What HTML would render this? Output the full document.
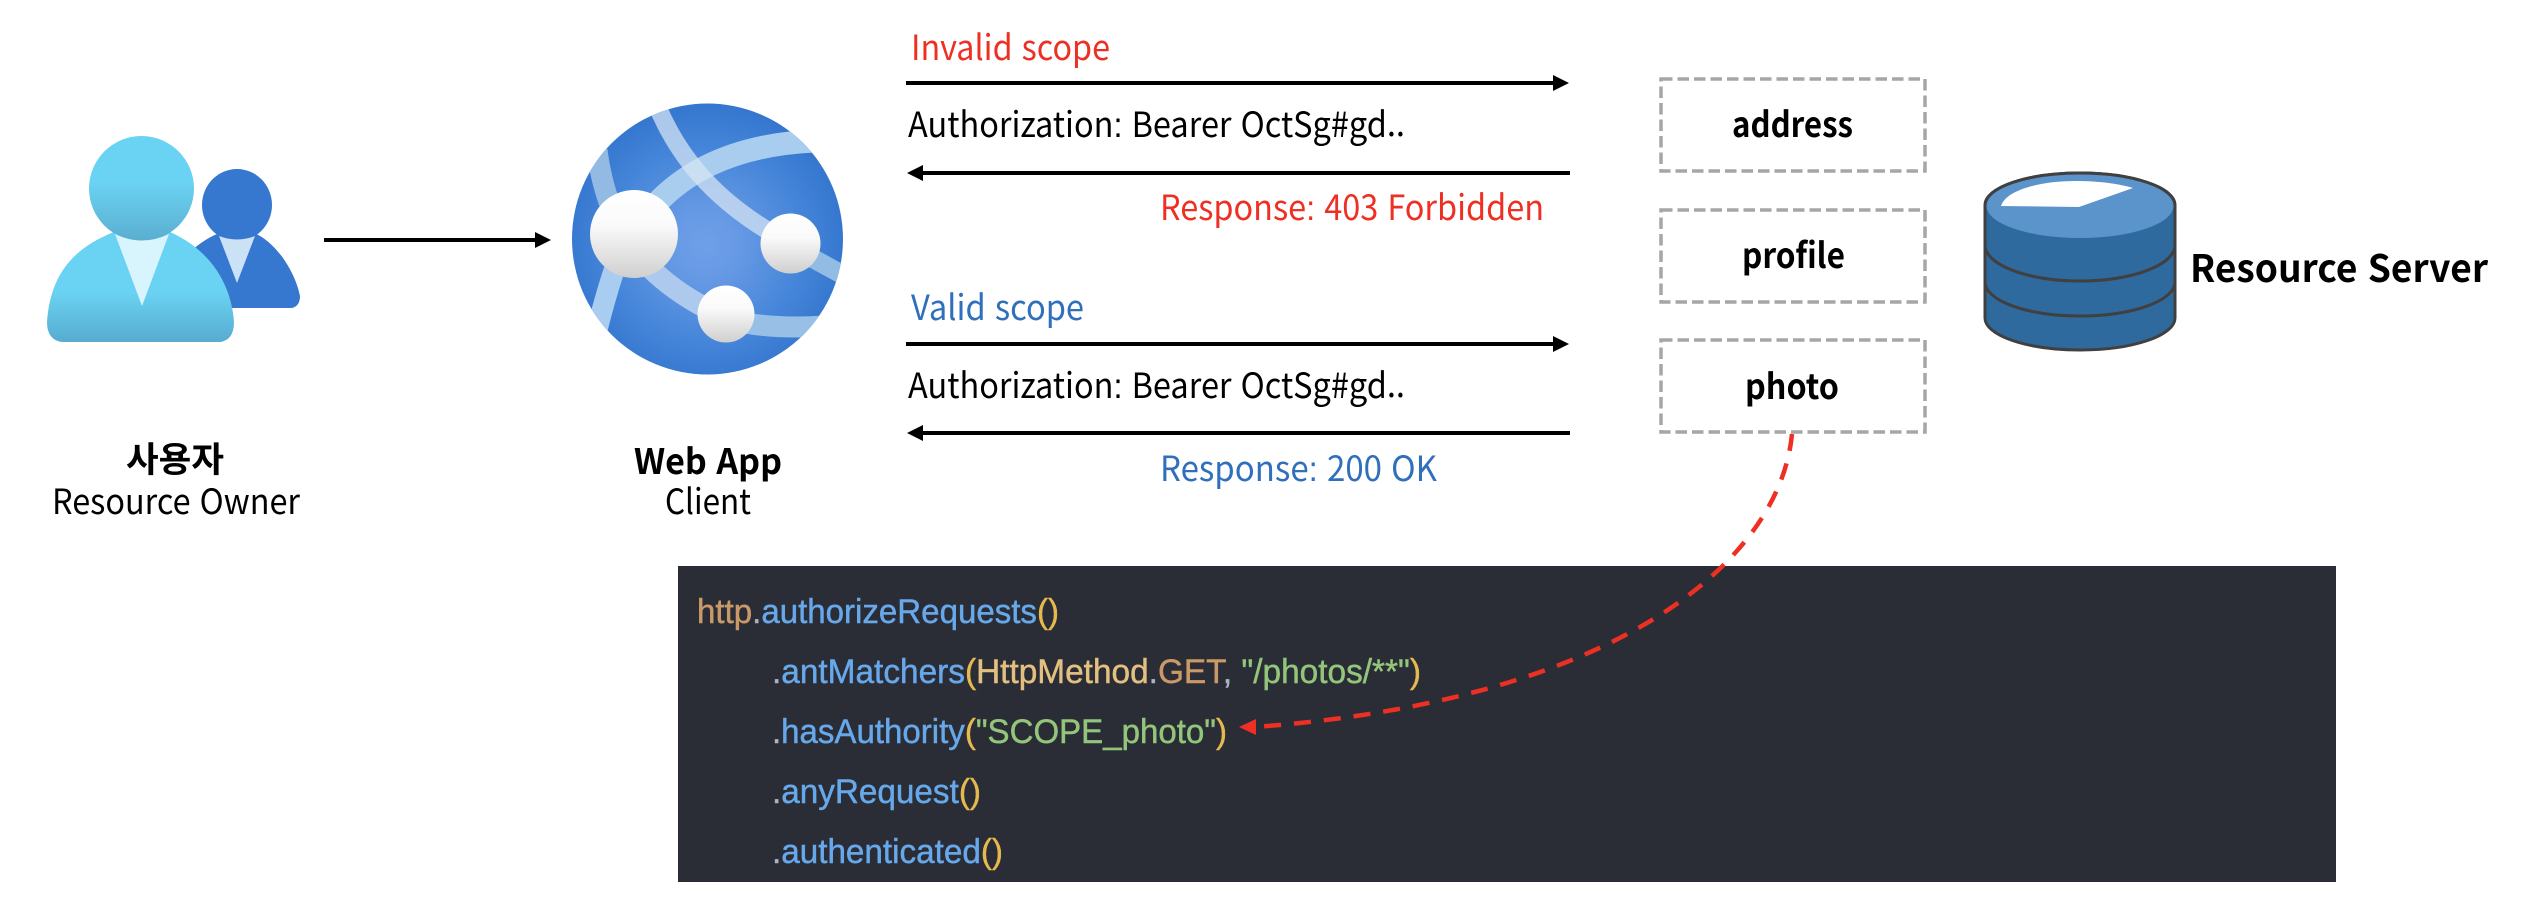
<!DOCTYPE html>
<html lang="ko">
<head>
<meta charset="utf-8">
<title>Scope diagram</title>
<style>
html,body{margin:0;padding:0;background:#fff;width:2532px;height:908px;overflow:hidden}
svg{display:block}
.t{font-family:"Noto Sans CJK KR","Liberation Sans",sans-serif;font-size:35px}
.b{font-family:"Noto Sans CJK KR","Liberation Sans",sans-serif;font-size:35px;font-weight:700}
.c{font-family:"Liberation Sans",Arial,sans-serif;font-size:34px;stroke-width:.45px}
.k{font-family:"Liberation Sans",sans-serif}
.tan{fill:#c99a68;stroke:#c99a68}
.gr{fill:#abb2bf;stroke:#abb2bf}
.bl{fill:#67a8ea;stroke:#67a8ea}
.ye{fill:#e5b94f;stroke:#e5b94f}
.sa{fill:#e3c07f;stroke:#e3c07f}
.gn{fill:#93c57a;stroke:#93c57a}
</style>
</head>
<body>
<svg width="2532" height="908" viewBox="0 0 2532 908" xmlns="http://www.w3.org/2000/svg">
<defs>
<linearGradient id="pb" x1="0" y1="0" x2="0" y2="1"><stop offset="0.55" stop-color="#6ad2f2"/><stop offset="1" stop-color="#57acd0"/></linearGradient>
<linearGradient id="ph" x1="0" y1="0" x2="0" y2="1"><stop offset="0.45" stop-color="#6ad2f2"/><stop offset="1" stop-color="#5aaed0"/></linearGradient>
<radialGradient id="gl" gradientUnits="userSpaceOnUse" cx="705" cy="245" r="140"><stop offset="0" stop-color="#6f9fe9"/><stop offset="0.25" stop-color="#6699e4"/><stop offset="0.7" stop-color="#4585d9"/><stop offset="1" stop-color="#3577cf"/></radialGradient>
<linearGradient id="nd" x1="0" y1="0" x2="0" y2="1"><stop offset="0" stop-color="#ffffff"/><stop offset="0.4" stop-color="#fafafa"/><stop offset="1" stop-color="#cfcfcf"/></linearGradient>
<clipPath id="gc"><circle cx="707.5" cy="239" r="135.5"/></clipPath>
</defs>

<!-- users -->
<path d="M190,308 L190,252 Q205,238 222,232 Q237,242 252,232 C278,242 296,275 300,296 Q300,306 292,308 Z" fill="#3677cf"/>
<ellipse cx="237" cy="205" rx="35" ry="36" fill="#3677cf"/>
<path d="M219,236 Q237,243 255,236 L237,283 Z" fill="#cbe1f5"/>
<path d="M47,322 C50,280 68,250 114,232 Q142,246 170,232 C215,252 232,290 234,322 Q234,340 220,342 L62,342 Q47,340 47,322 Z" fill="url(#pb)"/>
<ellipse cx="141.500" cy="188.500" rx="52.500" ry="52.500" fill="url(#ph)"/>
<path d="M115,234 Q142,247 169,234 L142,306 Z" fill="#d8f4fc"/>

<!-- user -> app arrow -->
<rect x="324" y="238" width="212" height="4" fill="#000"/>
<path d="M535,232 L551,240 L535,248 Z" fill="#000"/>

<!-- globe -->
<circle cx="707.500" cy="239" r="135.500" fill="url(#gl)"/>
<g clip-path="url(#gc)" fill="none">
  <path d="M597,150 Q601,182 612,210" stroke="#92bae2" stroke-width="21"/>
  <path d="M617,262 Q607,290 597,330" stroke="#a8cdf0" stroke-width="21"/>
  <path d="M655,205 C680,178 725,145 815,141" stroke="#a9cdef" stroke-width="23"/>
  <path d="M656,103 C677,155 712,197 770,232" stroke="#d8e6f4" stroke-opacity="0.72" stroke-width="18"/>
  <path d="M812,258 L845,276" stroke="#93bce4" stroke-width="19"/>
  <path d="M650,268 Q675,292 706,308" stroke="#adc9ee" stroke-width="21"/>
  <path d="M745,323 Q780,329 825,326" stroke="#98bfe6" stroke-width="21"/>
</g>
<circle cx="634" cy="234" r="44" fill="url(#nd)"/>
<circle cx="790.500" cy="243.500" r="30" fill="url(#nd)"/>
<circle cx="726" cy="314" r="28.500" fill="url(#nd)"/>

<!-- labels left -->
<text class="b" x="175" y="472" text-anchor="middle" textLength="98" lengthAdjust="spacingAndGlyphs">사용자</text>
<text class="t" x="52" y="514" textLength="248" lengthAdjust="spacingAndGlyphs">Resource Owner</text>
<text class="b" x="634" y="474" textLength="148" lengthAdjust="spacingAndGlyphs">Web App</text>
<text class="t" x="665" y="514" textLength="86" lengthAdjust="spacingAndGlyphs">Client</text>

<!-- request arrows -->
<rect x="906" y="81" width="650" height="4" fill="#000"/><path d="M1553,75 L1569,83 L1553,91 Z" fill="#000"/>
<rect x="920" y="171" width="650" height="4" fill="#000"/><path d="M923,165 L907,173 L923,181 Z" fill="#000"/>
<rect x="906" y="342" width="650" height="4" fill="#000"/><path d="M1553,336 L1569,344 L1553,352 Z" fill="#000"/>
<rect x="920" y="431" width="650" height="4" fill="#000"/><path d="M923,425 L907,433 L923,441 Z" fill="#000"/>

<text class="t" x="911" y="60" fill="#ee3024" textLength="199" lengthAdjust="spacingAndGlyphs">Invalid scope</text>
<text class="t" x="908" y="137" fill="#000" textLength="497" lengthAdjust="spacingAndGlyphs">Authorization<tspan class="k">:</tspan> Bearer OctSg#gd..</text>
<text class="t" x="1160" y="220" fill="#ee3024" textLength="384" lengthAdjust="spacingAndGlyphs">Response<tspan class="k">:</tspan> 403 Forbidden</text>
<text class="t" x="911" y="320" fill="#2f6fbc" textLength="173" lengthAdjust="spacingAndGlyphs">Valid scope</text>
<text class="t" x="908" y="398" fill="#000" textLength="497" lengthAdjust="spacingAndGlyphs">Authorization<tspan class="k">:</tspan> Bearer OctSg#gd..</text>
<text class="t" x="1160" y="481" fill="#2f6fbc" textLength="277" lengthAdjust="spacingAndGlyphs">Response<tspan class="k">:</tspan> 200 OK</text>

<!-- scope boxes -->
<g fill="none" stroke="#a6a6a6" stroke-width="3.500" stroke-dasharray="11.500 5">
  <rect x="1661" y="79" width="264" height="92"/>
  <rect x="1661" y="210" width="264" height="92"/>
  <rect x="1661" y="340" width="264" height="92"/>
</g>
<text class="b" x="1732" y="137" textLength="121" lengthAdjust="spacingAndGlyphs">address</text>
<text class="b" x="1742" y="268" textLength="103" lengthAdjust="spacingAndGlyphs">profile</text>
<text class="b" x="1745" y="399" textLength="94" lengthAdjust="spacingAndGlyphs">photo</text>

<!-- database -->
<path d="M1985,205 A95,32 0 0 1 2175,205 L2175,318 A95,32 0 0 1 1985,318 Z" fill="#2e6a9e" stroke="#404040" stroke-width="3"/>
<ellipse cx="2080" cy="206" rx="93.500" ry="32" fill="#5b94cb"/>
<path d="M1985,205 A95,32 0 0 1 2175,205" fill="none" stroke="#404040" stroke-width="3"/>
<path d="M1985,245 A95,36 0 0 0 2175,245" fill="none" stroke="#404040" stroke-width="3"/>
<path d="M1985,282 A95,34 0 0 0 2175,282" fill="none" stroke="#404040" stroke-width="3"/>
<path d="M2001,206 C2006,190 2040,181 2075,181 C2100,181 2120,184 2133,188 L2079,207 Z" fill="#fff"/>
<text class="b" x="2190" y="282" style="font-size:38px" textLength="298" lengthAdjust="spacingAndGlyphs">Resource Server</text>

<!-- code block -->
<rect x="678" y="566" width="1658" height="316" fill="#2a2d35"/>
<text class="c" x="697" y="623" textLength="362" lengthAdjust="spacingAndGlyphs"><tspan class="tan">http</tspan><tspan class="gr">.</tspan><tspan class="bl">authorizeRequests</tspan><tspan class="ye">()</tspan></text>
<text class="c" x="772" y="683" textLength="649" lengthAdjust="spacingAndGlyphs"><tspan class="gr">.</tspan><tspan class="bl">antMatchers</tspan><tspan class="ye">(</tspan><tspan class="sa">HttpMethod</tspan><tspan class="gr">.</tspan><tspan class="tan">GET</tspan><tspan class="gr">, </tspan><tspan class="gn">"/photos/**"</tspan><tspan class="ye">)</tspan></text>
<text class="c" x="772" y="743" textLength="455" lengthAdjust="spacingAndGlyphs"><tspan class="gr">.</tspan><tspan class="bl">hasAuthority</tspan><tspan class="ye">(</tspan><tspan class="gn">"SCOPE_photo"</tspan><tspan class="ye">)</tspan></text>
<text class="c" x="772" y="803" textLength="209" lengthAdjust="spacingAndGlyphs"><tspan class="gr">.</tspan><tspan class="bl">anyRequest</tspan><tspan class="ye">()</tspan></text>
<text class="c" x="772" y="863" textLength="231" lengthAdjust="spacingAndGlyphs"><tspan class="gr">.</tspan><tspan class="bl">authenticated</tspan><tspan class="ye">()</tspan></text>

<!-- red dashed curve -->
<path d="M1792,434 C1780,560 1620,700 1255,727" fill="none" stroke="#ee3024" stroke-width="4.500" stroke-dasharray="17 13"/>
<path d="M1239,727 L1256,719 L1256,735 Z" fill="#ee3024"/>
</svg>
</body>
</html>
